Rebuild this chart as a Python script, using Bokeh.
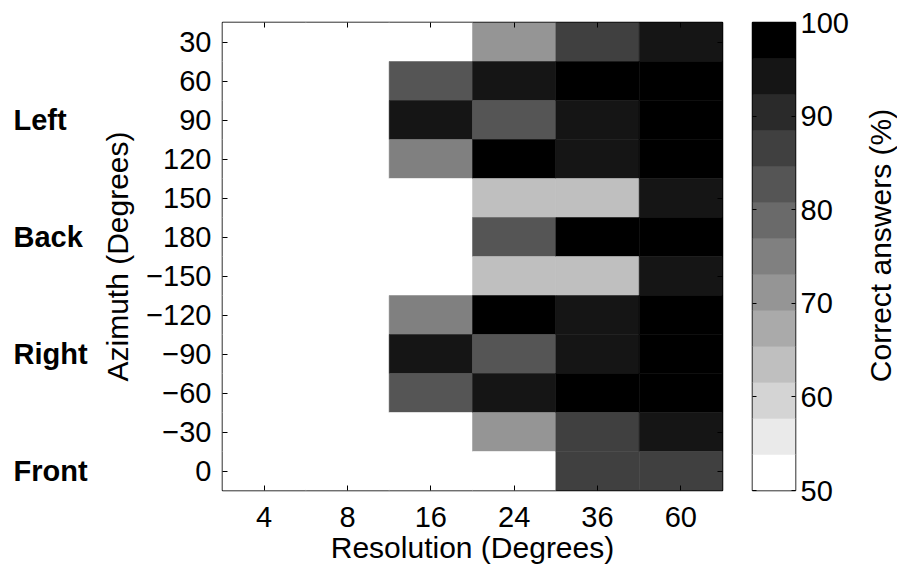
import numpy as np
from bokeh.plotting import figure
from bokeh.models import (LinearColorMapper, FixedTicker, LinearAxis,
                          ColumnDataSource, Range1d, CustomJSTickFormatter)
from bokeh.layouts import row
from bokeh.transform import transform
from bokeh.core.properties import value
from bokeh.embed import file_html
from bokeh.resources import INLINE

# ---------------- data ----------------
resolutions = [4, 8, 16, 24, 36, 60]
azimuths = [30, 60, 90, 120, 150, 180, -150, -120, -90, -60, -30, 0]  # top -> bottom

pct_res4 = [50, 50, 50, 50, 50, 50, 50, 50, 50, 50, 50, 50]
pct_res8 = [50, 50, 50, 50, 50, 50, 50, 50, 50, 50, 50, 50]
pct_res16 = [50, 83, 94, 75, 50, 50, 50, 75, 94, 83, 50, 50]
pct_res24 = [71, 94, 83, 98, 63, 83, 63, 98, 83, 94, 71, 50]
pct_res36 = [87, 98, 94, 94, 63, 98, 63, 94, 94, 98, 87, 87]
pct_res60 = [94, 98, 98, 98, 94, 98, 94, 98, 98, 98, 94, 87]
columns = [pct_res4, pct_res8, pct_res16, pct_res24, pct_res36, pct_res60]

side_labels = ["Left", "Back", "Right", "Front"]
side_azimuths = [90, 180, -90, 0]

cbar_low, cbar_high, n_levels = 50, 100, 13
cbar_ticks = [50, 60, 70, 80, 90, 100]

# ---------------- styles ----------------
FONT = "Liberation Sans"
TICK_FS = "29px"
LABEL_FS = "30px"
FRAME_H = 468
TOP, BOTTOM = 22, 80
n_rows = len(azimuths)
palette = ["#%02x%02x%02x" % ((round(255 * (n_levels - 1 - i) / (n_levels - 1)),) * 3)
           for i in range(n_levels)]
mapper = LinearColorMapper(palette=palette, low=cbar_low, high=cbar_high)
blank = CustomJSTickFormatter(code="return ''")


def fmt_az(a):
    return str(a).replace("-", "\u2212")


xs, ys, vals = [], [], []
for ci, col in enumerate(columns):
    for ri, v in enumerate(col):
        xs.append(ci + 1)
        ys.append(n_rows - ri)
        vals.append(v)
src = ColumnDataSource(dict(x=xs, y=ys, val=vals))


def style_axis(ax, tick_in=5, labels=True):
    ax.axis_line_color = None
    ax.major_tick_in = tick_in
    ax.major_tick_out = 0
    ax.minor_tick_in = 0
    ax.minor_tick_out = 0
    ax.major_tick_line_color = "black"
    ax.major_tick_line_width = 1
    ax.major_label_text_font = FONT
    ax.major_label_text_color = "black"
    ax.major_label_text_font_size = TICK_FS
    if not labels:
        ax.formatter = blank
        ax.major_label_standoff = 0
    ax.axis_label_text_font = FONT
    ax.axis_label_text_font_size = LABEL_FS
    ax.axis_label_text_font_style = "normal"
    ax.axis_label_text_color = "black"


def bare(fig):
    fig.xgrid.visible = False
    fig.ygrid.visible = False
    fig.outline_line_color = None
    fig.background_fill_color = "white"
    fig.border_fill_color = "white"


y_range = Range1d(0.5, n_rows + 0.5)

# ---------------- side labels (Left / Back / Right / Front) ----------------
SIDE_W = 96
side = figure(x_range=Range1d(0, SIDE_W), y_range=y_range,
              frame_width=SIDE_W, frame_height=FRAME_H,
              min_border_left=0, min_border_right=0,
              min_border_top=TOP, min_border_bottom=BOTTOM,
              x_axis_location=None, y_axis_location=None,
              output_backend="svg", toolbar_location=None)
bare(side)
side.text(x=[13] * len(side_labels),
          y=[n_rows - azimuths.index(a) for a in side_azimuths],
          text=side_labels, text_font=value(FONT), text_font_size="29px",
          text_font_style="bold", text_color="black",
          text_align="left", text_baseline="middle")

# ---------------- main heatmap ----------------
p = figure(x_range=Range1d(0.5, len(resolutions) + 0.5), y_range=y_range,
           frame_width=500, frame_height=FRAME_H,
           min_border_left=222 - SIDE_W, min_border_right=6,
           min_border_top=TOP, min_border_bottom=BOTTOM,
           output_backend="svg", toolbar_location=None)
p.rect(x="x", y="y", width=1, height=1, source=src,
       fill_color=transform("val", mapper), line_color=transform("val", mapper),
       line_width=0.5)

xt = list(range(1, len(resolutions) + 1))
yt = list(range(1, n_rows + 1))
p.xaxis.ticker = FixedTicker(ticks=xt)
p.xaxis.major_label_overrides = {i + 1: str(r) for i, r in enumerate(resolutions)}
p.yaxis.ticker = FixedTicker(ticks=yt)
p.yaxis.major_label_overrides = {n_rows - i: fmt_az(a) for i, a in enumerate(azimuths)}
p.xaxis.axis_label = "Resolution (Degrees)"
p.yaxis.axis_label = "Azimuth (Degrees)"
style_axis(p.xaxis[0])
style_axis(p.yaxis[0])
p.xaxis.major_label_standoff = 16
p.xaxis.axis_label_standoff = 1
p.yaxis.major_label_standoff = 11
p.yaxis.axis_label_standoff = 9

top_ax = LinearAxis(ticker=FixedTicker(ticks=xt))
style_axis(top_ax, labels=False)
p.add_layout(top_ax, "above")
right_ax = LinearAxis(ticker=FixedTicker(ticks=yt))
style_axis(right_ax, labels=False)
p.add_layout(right_ax, "right")

bare(p)
p.outline_line_color = "black"
p.outline_line_width = 1.5

# ---------------- colorbar ----------------
edges = np.linspace(cbar_low, cbar_high, n_levels + 1)
cb = figure(x_range=Range1d(0, 1), y_range=Range1d(cbar_low, cbar_high),
            frame_width=43, frame_height=FRAME_H,
            min_border_left=24, min_border_right=55,
            min_border_top=TOP, min_border_bottom=BOTTOM,
            x_axis_location=None, y_axis_location="right",
            output_backend="svg", toolbar_location=None)
cb.quad(left=0, right=1, bottom=edges[:-1], top=edges[1:],
        fill_color=palette, line_color=palette, line_width=0.5)
cb.yaxis.ticker = FixedTicker(ticks=cbar_ticks)
style_axis(cb.yaxis[0], tick_in=4)
cb.yaxis.major_label_standoff = 5
cb_left = LinearAxis(ticker=FixedTicker(ticks=cbar_ticks))
style_axis(cb_left, tick_in=4, labels=False)
cb.add_layout(cb_left, "left")
bare(cb)
cb.outline_line_color = "black"
cb.outline_line_width = 1.5

# ---------------- colorbar title ----------------
LAB_W = 46
lab = figure(x_range=Range1d(0, LAB_W), y_range=Range1d(cbar_low, cbar_high),
             frame_width=LAB_W, frame_height=FRAME_H,
             min_border_left=0, min_border_right=0,
             min_border_top=TOP, min_border_bottom=BOTTOM,
             x_axis_location=None, y_axis_location=None,
             output_backend="svg", toolbar_location=None)
bare(lab)
lift = 11 * (cbar_high - cbar_low) / FRAME_H  # title sits 11px above the bar's middle
lab.text(x=[29], y=[(cbar_low + cbar_high) / 2 + lift], text=["Correct answers (%)"],
         angle=90, angle_units="deg", text_font=value(FONT),
         text_font_size=LABEL_FS, text_color="black",
         text_align="center", text_baseline="middle")

layout = row(side, p, cb, lab)
open("out.html", "w").write(file_html(layout, INLINE))
